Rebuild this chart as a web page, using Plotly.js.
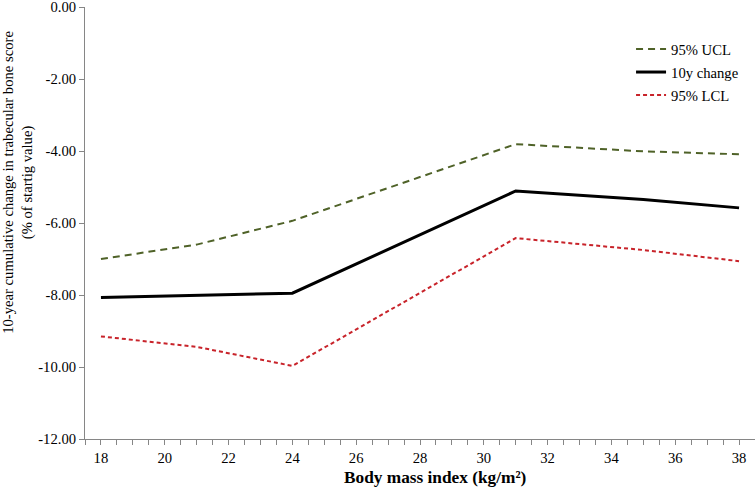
<!DOCTYPE html>
<html>
<head>
<meta charset="utf-8">
<script src="https://cdn.plot.ly/plotly-3.0.1.min.js"></script>
<style>html,body{margin:0;padding:0;background:#fff;}#chart{width:755px;height:487px;}</style>
</head>
<body>
<div id="chart"></div>
<script>
const bmi = [18, 21, 24, 31, 35, 38];
const ucl = [-7.00, -6.60, -5.94, -3.81, -4.01, -4.09];
const change10y = [-8.07, -8.01, -7.95, -5.11, -5.35, -5.58];
const lcl = [-9.15, -9.44, -9.97, -6.42, -6.75, -7.06];
const seriesNames = ["95% UCL", "10y change", "95% LCL"];
const yTickVals = [0, -2, -4, -6, -8, -10, -12];
const yTickText = yTickVals.map(v => v.toFixed(2));
const xTitle = '<b>Body mass index (kg/m²)</b>';
const yTitle = '10-year cumulative change in trabecular bone score<br>(% of startig value)';

const FONT = '"Liberation Serif", "Times New Roman", serif';

const traces = [
  {x: bmi, y: ucl, name: seriesNames[0], legendgroup: 'a', type: 'scatter', mode: 'lines',
   line: {color: '#4f6228', width: 2, dash: '7px,5px'}},
  {x: bmi, y: change10y, name: seriesNames[1], legendgroup: 'b', type: 'scatter', mode: 'lines',
   line: {color: '#000000', width: 3}},
  {x: bmi, y: lcl, name: seriesNames[2], legendgroup: 'c', type: 'scatter', mode: 'lines',
   line: {color: '#c8232a', width: 2, dash: '4px,3px'}}
];

const layout = {
  width: 755, height: 487,
  margin: {l: 85, r: 0, t: 7, b: 48},
  paper_bgcolor: '#fff', plot_bgcolor: '#fff',
  font: {family: FONT, size: 14.67, color: '#000'},
  showlegend: true,
  legend: {x: 0.815, y: 0.94, xanchor: 'left', yanchor: 'top', bgcolor: 'rgba(0,0,0,0)',
           font: {size: 14.67}, traceorder: 'grouped', tracegroupgap: 1, itemwidth: 30},
  xaxis: {
    range: [17.5, 38.5], tick0: 18, dtick: 2, ticks: 'outside', ticklen: 5, tickcolor: '#868686',
    showline: true, linecolor: '#868686', linewidth: 1, showgrid: false, zeroline: false,
    minor: {dtick: 0.5, tick0: 17.5, ticks: 'outside', ticklen: 5, tickcolor: '#868686', showgrid: false},
    tickfont: {size: 14.67}
  },
  yaxis: {
    range: [-12, 0], tickmode: 'array', tickvals: yTickVals, ticktext: yTickText,
    ticks: 'outside', ticklen: 5, tickcolor: '#868686', ticklabeloverflow: 'allow',
    showline: true, linecolor: '#868686', linewidth: 1, showgrid: false, zeroline: false,
    tickfont: {size: 14.67}
  },
  annotations: [{
    text: yTitle, xref: 'paper', yref: 'paper', x: -0.1, y: 0.593,
    xanchor: 'center', yanchor: 'middle', textangle: -90, showarrow: false,
    font: {family: FONT, size: 14.67, color: '#000'}
  }, {
    text: xTitle, xref: 'paper', yref: 'paper', x: 0.522, y: -0.09,
    xanchor: 'center', yanchor: 'middle', showarrow: false,
    font: {family: FONT, size: 17.3, color: '#000'}
  }]
};

Plotly.newPlot('chart', traces, layout, {displayModeBar: false, staticPlot: true});
</script>
</body>
</html>
